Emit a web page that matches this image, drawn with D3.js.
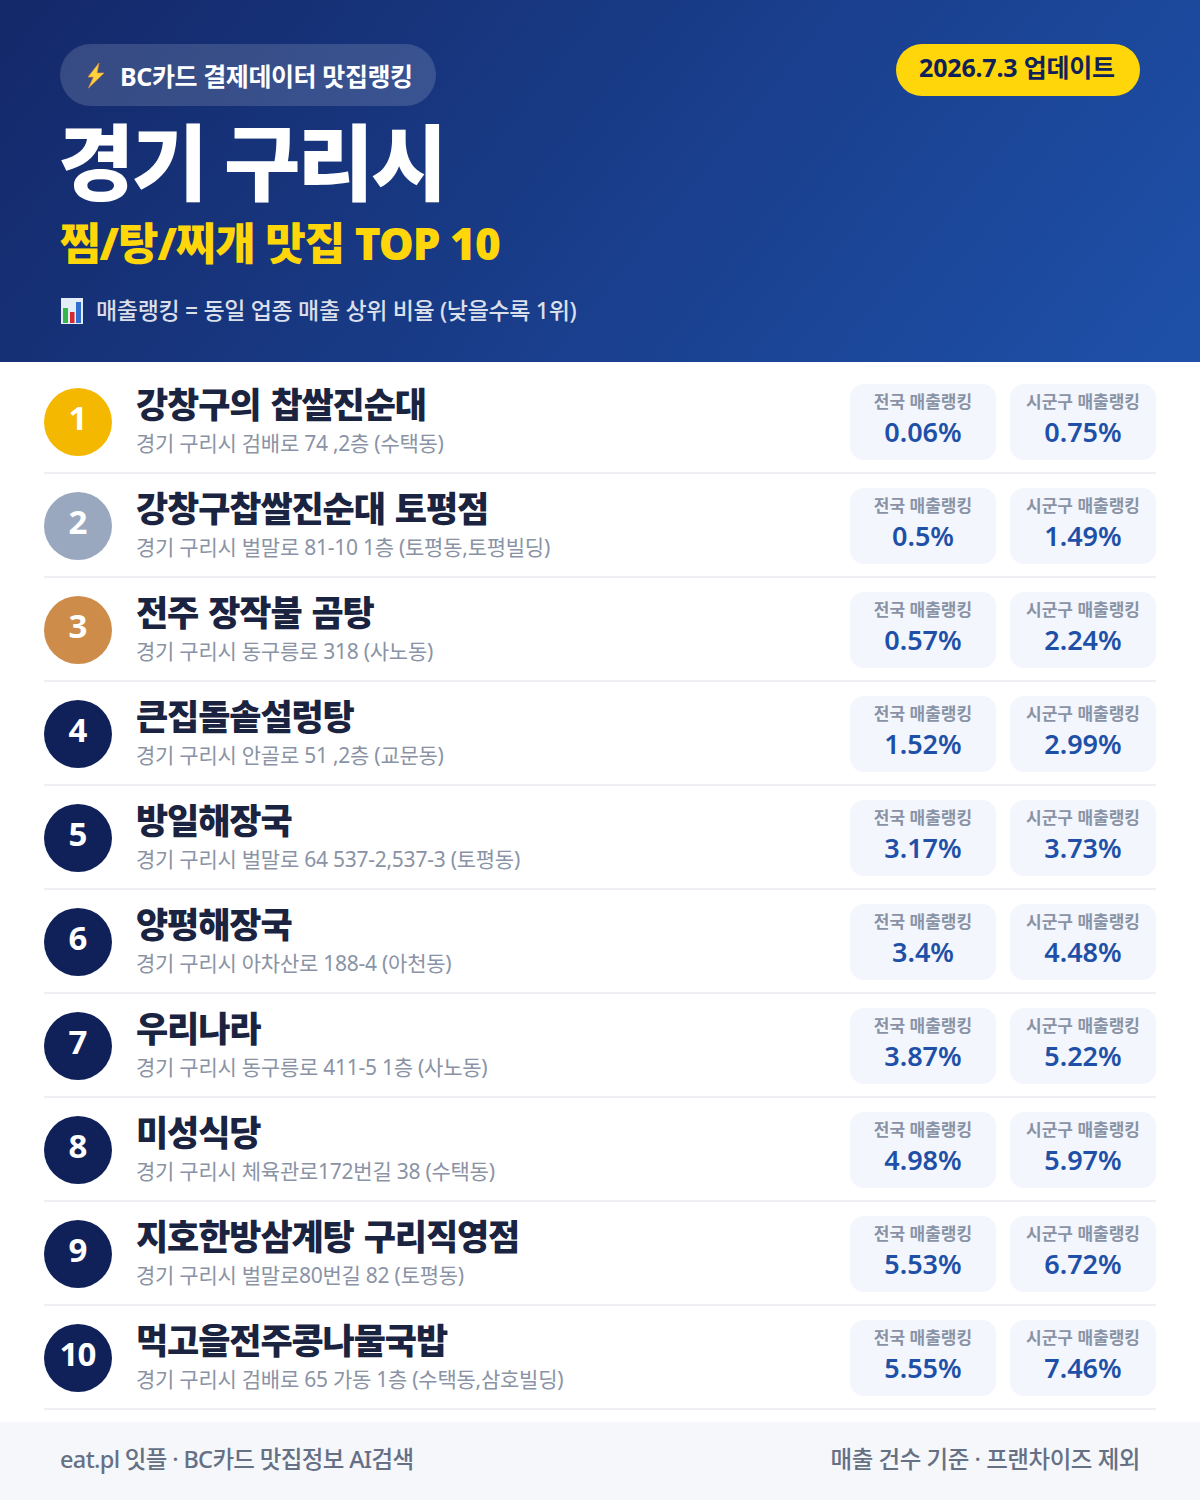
<!DOCTYPE html>
<html lang="ko">
<head>
<meta charset="UTF-8">
<title>경기 구리시 찜/탕/찌개 맛집 TOP 10</title>
<style>
    html, body { margin: 0; padding: 0; background: #fff; }
    svg { display: block; }
    text { font-family: "Noto Sans", "Noto Sans CJK KR", sans-serif; }
</style>
<script src="https://d3js.org/d3.v7.min.js"></script>
</head>
<body>
<div id="chart"></div>
<script>
const ranks = [1, 2, 3, 4, 5, 6, 7, 8, 9, 10];
const names = ["강창구의 찹쌀진순대", "강창구찹쌀진순대 토평점", "전주 장작불 곰탕", "큰집돌솥설렁탕", "방일해장국", "양평해장국", "우리나라", "미성식당", "지호한방삼계탕 구리직영점", "먹고을전주콩나물국밥"];
const addresses = [
    "경기 구리시 검배로 74 ,2층 (수택동)",
    "경기 구리시 벌말로 81-10 1층 (토평동,토평빌딩)",
    "경기 구리시 동구릉로 318 (사노동)",
    "경기 구리시 안골로 51 ,2층 (교문동)",
    "경기 구리시 벌말로 64 537-2,537-3 (토평동)",
    "경기 구리시 아차산로 188-4 (아천동)",
    "경기 구리시 동구릉로 411-5 1층 (사노동)",
    "경기 구리시 체육관로172번길 38 (수택동)",
    "경기 구리시 벌말로80번길 82 (토평동)",
    "경기 구리시 검배로 65 가동 1층 (수택동,삼호빌딩)"
];
const nationalRank = [0.06, 0.5, 0.57, 1.52, 3.17, 3.4, 3.87, 4.98, 5.53, 5.55];
const localRank = [0.75, 1.49, 2.24, 2.99, 3.73, 4.48, 5.22, 5.97, 6.72, 7.46];
const cardLabels = ["전국 매출랭킹", "시군구 매출랭킹"];
const medalColors = ["#f4b800", "#9aa8bf", "#cd8c4a"];

const width = 1200, height = 1500;
const svg = d3.select("#chart").append("svg").attr("width", width).attr("height", height);

// header
const grad = svg.append("defs").append("linearGradient")
    .attr("id", "headerGrad")
    .attr("gradientUnits", "userSpaceOnUse")
    .attr("x1", 170).attr("y1", -170).attr("x2", 1030).attr("y2", 532);
grad.append("stop").attr("offset", "0%").attr("stop-color", "#14296a");
grad.append("stop").attr("offset", "100%").attr("stop-color", "#1e50a8");

svg.append("rect").attr("width", width).attr("height", 362).attr("fill", "url(#headerGrad)");

svg.append("rect").attr("x", 60).attr("y", 44).attr("width", 376).attr("height", 62).attr("rx", 31)
    .attr("fill", "#fff").attr("fill-opacity", 0.15);
// lightning icon
svg.append("path").attr("d", "M99 63 L88 77 L93.5 77 L88.5 88 L104 73 L97 73 Z").attr("fill", "#ffd23f").attr("stroke", "#e8943a").attr("stroke-width", 0.7);
svg.append("text").attr("x", 120).attr("y", 86).attr("font-size", 25).attr("font-weight", 700)
    .attr("letter-spacing", -0.4).attr("fill", "#fff").text("BC카드 결제데이터 맛집랭킹");

svg.append("rect").attr("x", 896).attr("y", 44).attr("width", 244).attr("height", 52).attr("rx", 26).attr("fill", "#ffd60a");
svg.append("text").attr("x", 1017).attr("y", 77).attr("text-anchor", "middle").attr("font-size", 25).attr("font-weight", 700)
    .attr("letter-spacing", -0.2).attr("fill", "#10215a").text("2026.7.3 업데이트");

svg.append("text").attr("x", 58).attr("y", 194).attr("font-size", 83).attr("font-weight", 900)
    .attr("letter-spacing", -2.8).attr("fill", "#fff").text("경기 구리시");
svg.append("text").attr("x", 60).attr("y", 260).attr("font-size", 44).attr("font-weight", 900)
    .attr("letter-spacing", -1).attr("fill", "#ffd60a").text("찜/탕/찌개 맛집 TOP 10");

// bar chart icon
const icon = svg.append("g").attr("transform", "translate(61,298)");
icon.append("rect").attr("width", 22).attr("height", 26).attr("fill", "#e3edf7");
icon.append("rect").attr("x", 2).attr("y", 10).attr("width", 5).attr("height", 15).attr("fill", "#35b54a");
icon.append("rect").attr("x", 9).attr("y", 14).attr("width", 4.5).attr("height", 11).attr("fill", "#d8282f");
icon.append("rect").attr("x", 15).attr("y", 4).attr("width", 5).attr("height", 21).attr("fill", "#2f6fd0");
svg.append("text").attr("x", 96).attr("y", 319).attr("font-size", 23).attr("font-weight", 500)
    .attr("letter-spacing", -0.33).attr("fill", "#fff").attr("fill-opacity", 0.85).text("매출랭킹 = 동일 업종 매출 상위 비율 (낮을수록 1위)");

// rows
const y = d3.scaleBand().domain(ranks).range([370, 1410]);
const x = d3.scaleBand().domain(cardLabels).range([850, 1156]).paddingInner(14 / 160);

const rows = svg.selectAll("g.row").data(ranks).enter().append("g")
    .attr("class", "row")
    .attr("transform", d => `translate(0,${y(d)})`);

rows.append("rect").attr("x", 44).attr("y", y.bandwidth() - 2).attr("width", 1112).attr("height", 2).attr("fill", "#eeeff2");
rows.append("circle").attr("cx", 78).attr("cy", 52).attr("r", 34)
    .attr("fill", (d, i) => medalColors[i] || "#10215a");
rows.append("text").attr("x", d => d > 9 ? 77.5 : 78).attr("y", 60).attr("text-anchor", "middle").attr("font-size", 33).attr("font-weight", 700)
    .attr("letter-spacing", d => d > 9 ? -1 : 0).attr("fill", "#fff").text(d => d);
rows.append("text").attr("x", 136).attr("y", 48).attr("font-size", 35).attr("font-weight", 900)
    .attr("letter-spacing", -1.1).attr("word-spacing", 2).attr("fill", "#1a2340").text((d, i) => names[i]);
rows.append("text").attr("x", 136).attr("y", 81).attr("font-size", 21).attr("font-weight", 400)
    .attr("letter-spacing", -0.25).attr("fill", "#8a93a5").text((d, i) => addresses[i]);

cardLabels.forEach((label, c) => {
    const values = c === 0 ? nationalRank : localRank;
    const cards = rows.append("g").attr("transform", `translate(${x(label)},14)`);
    cards.append("rect").attr("width", x.bandwidth()).attr("height", 76).attr("rx", 14).attr("fill", "#f3f6fc");
    cards.append("text").attr("x", x.bandwidth() / 2).attr("y", 24).attr("text-anchor", "middle")
        .attr("font-size", 17).attr("font-weight", 700).attr("letter-spacing", 0).attr("fill", "#8a93a5").text(label);
    cards.append("text").attr("x", x.bandwidth() / 2).attr("y", 58).attr("text-anchor", "middle")
        .attr("font-size", 27).attr("font-weight", 600).attr("fill", "#1e50a8").text((d, i) => values[i] + "%");
});

// footer
svg.append("rect").attr("y", 1422).attr("width", width).attr("height", 78).attr("fill", "#f5f7fb");
svg.append("text").attr("x", 60).attr("y", 1468).attr("font-size", 23.5).attr("font-weight", 500)
    .attr("letter-spacing", -0.65).attr("fill", "#667085").text("eat.pl 잇플 · BC카드 맛집정보 AI검색");
svg.append("text").attr("x", 1140).attr("y", 1468).attr("text-anchor", "end").attr("font-size", 23.5).attr("font-weight", 500)
    .attr("letter-spacing", -0.45).attr("fill", "#667085").text("매출 건수 기준 · 프랜차이즈 제외");
</script>
</body>
</html>
